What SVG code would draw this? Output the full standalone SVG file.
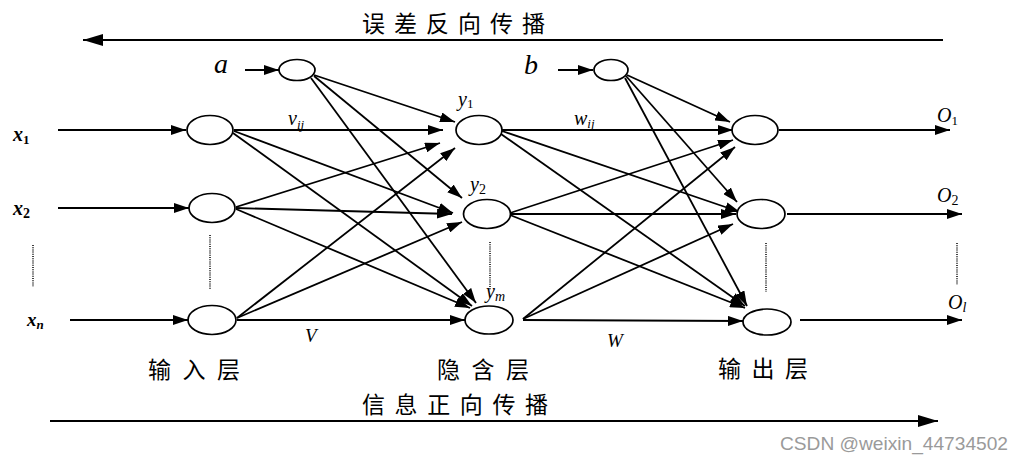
<svg xmlns="http://www.w3.org/2000/svg" width="1030" height="461" viewBox="0 0 1030 461">
<defs>
<marker id="ah" viewBox="0 0 15 10" refX="15" refY="5" markerWidth="15" markerHeight="10" markerUnits="userSpaceOnUse" orient="auto"><path d="M0,0 L15,5 L0,10 z" fill="#000"/></marker>
<marker id="big" viewBox="0 0 20 12" refX="20" refY="6" markerWidth="20" markerHeight="12" markerUnits="userSpaceOnUse" orient="auto"><path d="M0,0 L20,6 L0,12 z" fill="#000"/></marker>
<style>
.n{fill:#fff;stroke:#000;stroke-width:1.7}
.e{stroke:#000;stroke-width:1.8;fill:none;marker-end:url(#ah)}
.d{stroke:#000;stroke-width:1.5;stroke-dasharray:1 1.2;fill:none}
.cn{font-family:"Noto Sans CJK SC","Liberation Serif",serif;font-size:23px;fill:#000}
.m{font-family:"Liberation Serif",serif;font-style:italic;fill:#000}
.s{font-family:"Liberation Serif",serif;fill:#000}
</style>
</defs>
<rect width="1030" height="461" fill="#fff"/>
<g id="connectors">
<line x1="943" y1="40" x2="83" y2="40" stroke="#000" stroke-width="2.2" marker-end="url(#big)"/>
<line x1="50" y1="421" x2="938" y2="421" stroke="#000" stroke-width="2.2" marker-end="url(#big)"/>
<line class="e" x1="245" y1="70" x2="279" y2="70"/>
<line class="e" x1="558" y1="70" x2="593" y2="70"/>
<line class="e" x1="58" y1="130" x2="186" y2="130"/>
<line class="e" x1="58" y1="208" x2="189" y2="208"/>
<line class="e" x1="70" y1="320" x2="188" y2="320"/>
<line class="e" x1="779" y1="130" x2="950" y2="130"/>
<line class="e" x1="787" y1="214" x2="962" y2="214"/>
<line class="e" x1="800" y1="320" x2="962" y2="320"/>
<line class="e" x1="314" y1="75" x2="455" y2="122"/>
<line class="e" x1="314" y1="76" x2="462" y2="198"/>
<line class="e" x1="311" y1="78" x2="476" y2="303"/>
<line class="e" x1="234" y1="130" x2="443" y2="130"/>
<line class="e" x1="234" y1="131" x2="453" y2="213"/>
<line class="e" x1="233" y1="133" x2="472" y2="306"/>
<line class="e" x1="236" y1="207" x2="440" y2="143"/>
<line class="e" x1="236" y1="208" x2="452" y2="214"/>
<line class="e" x1="236" y1="209" x2="470" y2="308"/>
<line class="e" x1="237" y1="318" x2="455" y2="148"/>
<line class="e" x1="237" y1="318" x2="462" y2="222"/>
<line class="e" x1="237" y1="320" x2="465" y2="320"/>
<line class="e" x1="627" y1="75" x2="730" y2="122"/>
<line class="e" x1="626" y1="76" x2="737" y2="202"/>
<line class="e" x1="625" y1="78" x2="747" y2="306"/>
<line class="e" x1="502" y1="130" x2="733" y2="130"/>
<line class="e" x1="502" y1="131" x2="740" y2="212"/>
<line class="e" x1="501" y1="134" x2="745" y2="306"/>
<line class="e" x1="510" y1="213" x2="733" y2="140"/>
<line class="e" x1="510" y1="214" x2="736" y2="214"/>
<line class="e" x1="510" y1="215" x2="745" y2="308"/>
<line class="e" x1="523" y1="319" x2="735" y2="147"/>
<line class="e" x1="523" y1="319" x2="733" y2="224"/>
<line class="e" x1="523" y1="320" x2="743" y2="321"/>
<line class="d" x1="33" y1="245" x2="33" y2="287"/>
<line class="d" x1="210" y1="235" x2="210" y2="290"/>
<line class="d" x1="490" y1="242" x2="490" y2="290"/>
<line class="d" x1="766" y1="243" x2="766" y2="292"/>
<line class="d" x1="957" y1="243" x2="957" y2="285"/>
</g>
<g id="bias-a"><ellipse class="n" cx="297" cy="70" rx="18" ry="10.5"/><text class="m" x="214" y="73" font-size="28">a</text></g>
<g id="bias-b"><ellipse class="n" cx="611" cy="70" rx="17" ry="10.5"/><text class="m" x="524" y="74" font-size="28">b</text></g>
<g id="x1"><ellipse class="n" cx="210" cy="130" rx="23" ry="14.5"/><text class="m" x="13" y="141" font-size="20" font-weight="bold">x<tspan class="s" font-style="normal" font-size="13" dy="3">1</tspan></text></g>
<g id="x2"><ellipse class="n" cx="212" cy="208" rx="23" ry="14.5"/><text class="m" x="13" y="215" font-size="20" font-weight="bold">x<tspan class="s" font-style="normal" font-size="14" dy="3">2</tspan></text></g>
<g id="xn"><ellipse class="n" cx="212" cy="320" rx="24" ry="14.5"/><text class="m" x="27" y="326" font-size="19" font-weight="bold">x<tspan font-size="13" dy="3">n</tspan></text></g>
<g id="y1"><ellipse class="n" cx="479" cy="130" rx="23" ry="14.5"/><text class="m" x="458" y="106" font-size="20">y<tspan class="s" font-style="normal" font-size="13" dy="2">1</tspan></text></g>
<g id="y2"><ellipse class="n" cx="487" cy="214" rx="23.5" ry="14.5"/><text class="m" x="470" y="191" font-size="20">y<tspan class="s" font-style="normal" font-size="14" dy="3">2</tspan></text></g>
<g id="ym"><ellipse class="n" cx="489" cy="320" rx="24" ry="14"/><text class="m" x="486" y="298" font-size="20">y<tspan font-size="14" dy="3">m</tspan></text></g>
<g id="o1"><ellipse class="n" cx="755" cy="130" rx="23" ry="14.5"/><text class="m" x="937" y="122" font-size="20">O<tspan class="s" font-style="normal" font-size="13" dy="3">1</tspan></text></g>
<g id="o2"><ellipse class="n" cx="761" cy="214" rx="24" ry="14.5"/><text class="m" x="937" y="202" font-size="20">O<tspan class="s" font-style="normal" font-size="14" dy="3">2</tspan></text></g>
<g id="ol"><ellipse class="n" cx="767" cy="322" rx="24" ry="13"/><text class="m" x="948" y="309" font-size="20">O<tspan font-size="14" dy="3">l</tspan></text></g>
<g id="labels">
<text class="m" x="288" y="125" font-size="20">v<tspan font-size="13" dy="4">ij</tspan></text>
<text class="m" x="574" y="125" font-size="20">w<tspan font-size="13" dy="3">ij</tspan></text>
<text class="m" x="305" y="342" font-size="19">V</text>
<text class="m" x="607" y="347" font-size="19">W</text>
<text class="cn" x="362" y="32" textLength="183" lengthAdjust="spacing">误差反向传播</text>
<text class="cn" x="362" y="413" textLength="186" lengthAdjust="spacing">信息正向传播</text>
<text class="cn" x="148" y="378" textLength="92" lengthAdjust="spacing">输入层</text>
<text class="cn" x="437" y="378" textLength="92" lengthAdjust="spacing">隐含层</text>
<text class="cn" x="718" y="377" textLength="90" lengthAdjust="spacing">输出层</text>
<text x="780" y="450" font-family="'Liberation Sans',Arial,sans-serif" font-size="19" fill="#9a9a9a" textLength="228" lengthAdjust="spacingAndGlyphs">CSDN @weixin_44734502</text>
</g>
</svg>
